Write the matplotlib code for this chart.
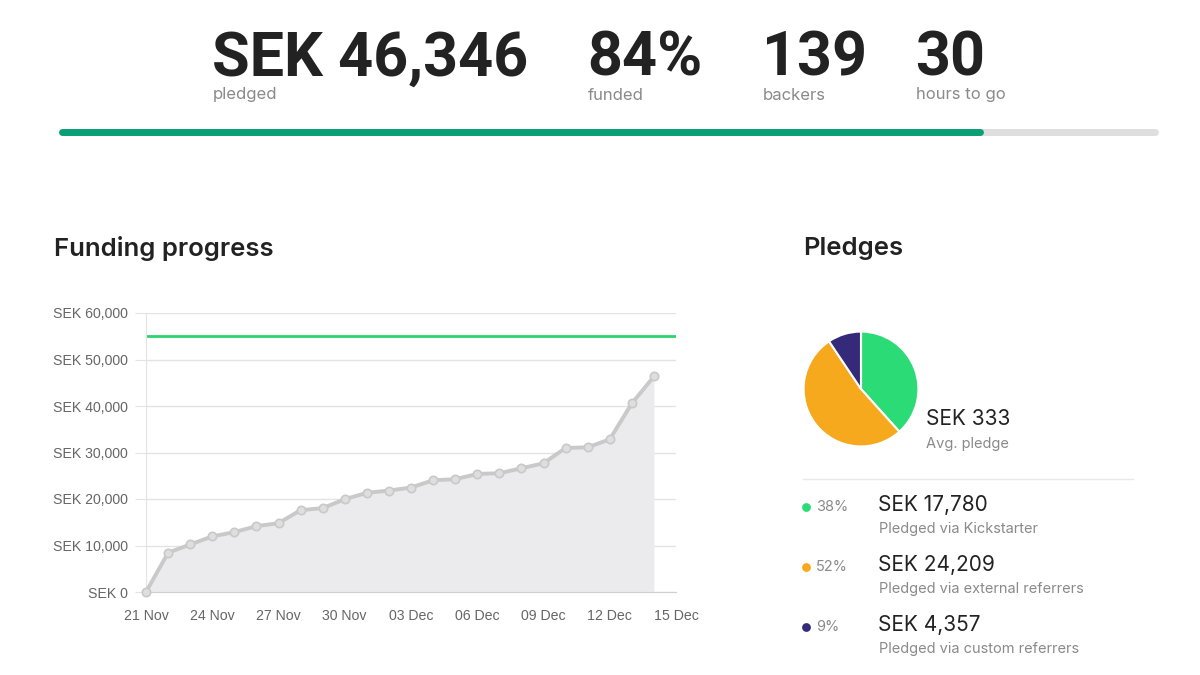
"""
Kickstarter-style campaign dashboard: headline stats, funding progress
line chart and pledge source pie, drawn onto one 1200x675 figure.
"""

import matplotlib
matplotlib.use("Agg")
import matplotlib.pyplot as plt
import matplotlib.dates as mdates
import matplotlib.ticker as mticker
import pandas as pd

# ---------------------------------------------------------------------------
# Data
# ---------------------------------------------------------------------------

stat_values = ["SEK 46,346", "84%", "139", "30"]
stat_labels = ["pledged", "funded", "backers", "hours to go"]
funded_fraction = 0.84

dates = pd.date_range("2023-11-21", "2023-12-14", freq="D")
pledged_total = [
    0, 8440, 10230, 11950, 12880, 14160, 14800, 17600, 18030, 19960,
    21320, 21820, 22460, 24030, 24250, 25390, 25540, 26610, 27680,
    30970, 31120, 32830, 40560, 46346,
]
goal = 55000

source_pct = ["38%", "52%", "9%"]
source_amounts = [17780, 24209, 4357]
source_labels = [
    "Pledged via Kickstarter",
    "Pledged via external referrers",
    "Pledged via custom referrers",
]
avg_pledge = "SEK 333"

# ---------------------------------------------------------------------------
# Styling
# ---------------------------------------------------------------------------

_UI_FONT    = "Inter"
_BIG_FONT   = "Roboto"
_CHART_FONT = "Liberation Sans"
_TEXT       = "#222222"
_MUTED      = "#8a8a8a"
_GRID       = "#e3e3e3"
_LINE       = "#c9c9c9"
_FILL       = "#ebebee"
_GOAL       = "#2bd46e"
_BAR_GREEN  = "#0a9e75"
_BAR_GREY   = "#dedede"
_SLICE_COLS = ["#2bdc76", "#f6a91d", "#352a7a"]

W, H = 1200, 675


def fx(px):
    return px / W


def fy(py):
    return 1 - py / H


fig = plt.figure(figsize=(12, 6.75), dpi=100)
fig.patch.set_facecolor("white")

# ---------------------------------------------------------------------------
# Headline stats
# ---------------------------------------------------------------------------

stat_x = [212, 587, 762, 915]
for x, val, lab in zip(stat_x, stat_values, stat_labels):
    fig.text(fx(x), fy(76), val, family=_BIG_FONT, fontweight="bold",
             fontsize=44, color=_TEXT, ha="left", va="baseline")
    fig.text(fx(x + 1), fy(95), lab, family=_UI_FONT, fontsize=12,
             color=_MUTED, ha="left", va="center")

# progress bar
bar_ax = fig.add_axes([0, 0, 1, 1])
bar_ax.set_xlim(0, W)
bar_ax.set_ylim(H, 0)
bar_ax.axis("off")
bar_x0, bar_x1 = 62, 1155
bar_ax.plot([bar_x0, bar_x1], [132, 132], color=_BAR_GREY, lw=5,
            solid_capstyle="round")
bar_ax.plot([bar_x0, bar_x0 + (bar_x1 - bar_x0) * funded_fraction], [132, 132],
            color=_BAR_GREEN, lw=5, solid_capstyle="round")
bar_ax.plot([803, 1133], [479, 479], color="#e8e8e8", lw=1)

# ---------------------------------------------------------------------------
# Funding progress
# ---------------------------------------------------------------------------

fig.text(fx(54), fy(249), "Funding progress", family=_UI_FONT,
         fontweight="semibold", fontsize=18.5, color=_TEXT, va="center")

ax = fig.add_axes([fx(146), fy(592), fx(676 - 146), (592 - 313) / H])
ax.fill_between(dates, pledged_total, color=_FILL, lw=0, zorder=1)
ax.plot(dates, pledged_total, color=_LINE, lw=2.8, marker="o", ms=6,
        mfc="#dedede", mec=_LINE, mew=1.2, zorder=3, clip_on=False)
ax.axhline(goal, color=_GOAL, lw=2, zorder=2)

ax.set_xlim(pd.Timestamp("2023-11-21"), pd.Timestamp("2023-12-15"))
ax.set_ylim(0, 60000)
ax.xaxis.set_major_locator(mdates.DayLocator(bymonthday=[3, 6, 9, 12, 15, 21, 24, 27, 30]))
ax.xaxis.set_major_formatter(mdates.DateFormatter("%d %b"))
ax.yaxis.set_major_locator(mticker.MultipleLocator(10000))
ax.yaxis.set_major_formatter(mticker.FuncFormatter(lambda v, _: f"SEK {v:,.0f}"))
ax.grid(axis="y", color=_GRID, lw=1, zorder=0)
ax.set_axisbelow(True)
for side in ("top", "right"):
    ax.spines[side].set_visible(False)
ax.spines["left"].set_color(_GRID)
ax.spines["bottom"].set_color("#cfcfcf")
ax.tick_params(axis="y", length=8, color=_GRID, pad=5)
ax.tick_params(axis="x", length=0, pad=12)
for lab in ax.get_xticklabels() + ax.get_yticklabels():
    lab.set_family(_CHART_FONT)
    lab.set_fontsize(10.2)
    lab.set_color("#666666")

# ---------------------------------------------------------------------------
# Pledges
# ---------------------------------------------------------------------------

fig.text(fx(803), fy(249), "Pledges", family=_UI_FONT,
         fontweight="semibold", fontsize=18.5, color=_TEXT, va="center")

pie_ax = fig.add_axes([fx(803), fy(447), 116 / W, 116 / H])
pie_ax.pie(source_amounts, colors=_SLICE_COLS, startangle=90,
           counterclock=False,
           wedgeprops={"edgecolor": "white", "linewidth": 1.5})
pie_ax.set_xlim(-1.01, 1.01)
pie_ax.set_ylim(-1.01, 1.01)
pie_ax.set_aspect("equal")

fig.text(fx(926), fy(419), avg_pledge, family=_UI_FONT, fontsize=15,
         color=_TEXT, va="center")
fig.text(fx(926), fy(444), "Avg. pledge", family=_UI_FONT, fontsize=10.5,
         color=_MUTED, va="center")

row_y = [506, 566, 626]
for y, col, pct, amt, lab in zip(row_y, _SLICE_COLS, source_pct,
                                 source_amounts, source_labels):
    bar_ax.scatter([806], [y + 1], s=40, color=col, lw=0)
    fig.text(fx(816), fy(y + 1), pct, family=_UI_FONT, fontsize=10.5,
             color=_MUTED, va="center")
    fig.text(fx(878), fy(y - 1), f"SEK {amt:,}", family=_UI_FONT,
             fontsize=15, color=_TEXT, va="center")
    fig.text(fx(879), fy(y + 23), lab, family=_UI_FONT, fontsize=10.5,
             color=_MUTED, va="center")

fig.savefig("out.png", dpi=100, facecolor="white")
